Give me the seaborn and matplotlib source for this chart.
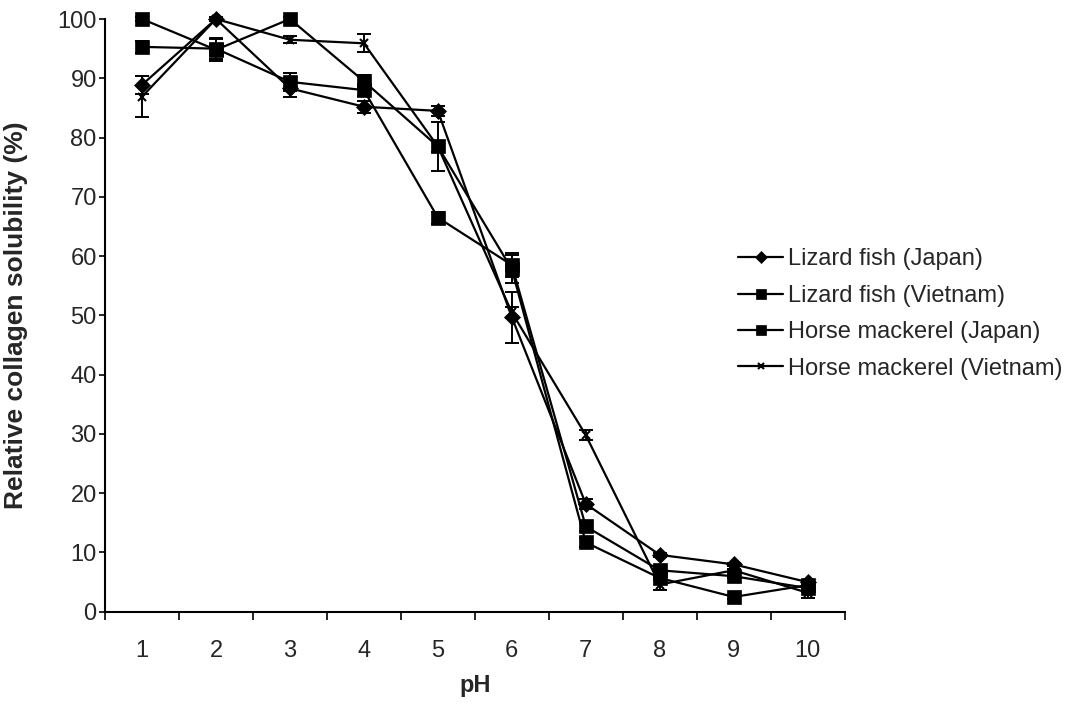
import numpy as np
import pandas as pd
import seaborn as sns
import matplotlib
matplotlib.use("Agg")
import matplotlib.pyplot as plt
from matplotlib.ticker import FixedLocator, NullFormatter, FixedFormatter

# ---- data ----
ph = [1, 2, 3, 4, 5, 6, 7, 8, 9, 10]
series_names = ["Lizard fish (Japan)", "Lizard fish (Vietnam)",
                "Horse mackerel (Japan)", "Horse mackerel (Vietnam)"]
lizard_japan = [88.9, 100.0, 88.3, 85.2, 84.5, 49.7, 18.2, 9.6, 8.0, 5.0]
lizard_vietnam = [100.0, 94.8, 100.0, 89.5, 78.5, 57.8, 11.7, 5.7, 2.5, 4.5]
horse_japan = [95.3, 95.0, 89.4, 88.0, 66.5, 58.5, 14.4, 7.0, 6.0, 4.0]
horse_vietnam = [86.9, 100.0, 96.5, 95.9, 78.5, 50.5, 29.8, 4.6, 7.0, 3.2]

err_lizard_japan = [1.5, 0.3, 1.5, 1.0, 0.8, 4.3, 0.8, 0.3, 0.3, 0.3]
err_lizard_vietnam = [0.3, 1.8, 0.3, 1.0, 4.2, 2.4, 0.8, 0.3, 0.3, 0.3]
err_horse_japan = [1.0, 1.8, 1.5, 1.0, 1.0, 2.0, 0.8, 0.3, 0.3, 0.3]
err_horse_vietnam = [3.5, 0.3, 0.6, 1.5, 1.0, 1.0, 0.8, 1.0, 0.3, 0.8]

y_ticks = [0, 10, 20, 30, 40, 50, 60, 70, 80, 90, 100]
x_label = "pH"
y_label = "Relative collagen solubility (%)"

values = [lizard_japan, lizard_vietnam, horse_japan, horse_vietnam]
errors = [err_lizard_japan, err_lizard_vietnam, err_horse_japan, err_horse_vietnam]
markers = ["D", "s", "s", "x"]
msizes = [8, 9.5, 9.5, 6]

rows = []
for name, vals, errs in zip(series_names, values, errors):
    for p, v, e in zip(ph, vals, errs):
        rows.append({"pH": p, "value": v, "err": e, "series": name})
df = pd.DataFrame(rows)

sns.set_style("ticks")
plt.rcParams["font.family"] = ["Liberation Sans", "DejaVu Sans"]

FS = 17

fig = plt.figure(figsize=(10.75, 7.04), dpi=100)
ax = fig.add_axes([0.0977, 0.131, 0.688, 0.842])

for name, m, ms in zip(series_names, markers, msizes):
    sub = df[df["series"] == name]
    ax.errorbar(sub["pH"], sub["value"], yerr=sub["err"], fmt="none",
                ecolor="black", elinewidth=1.4, capsize=5, capthick=1.4,
                zorder=2, clip_on=False)
    sns.lineplot(data=sub, x="pH", y="value", ax=ax, color="black",
                 marker=m, markersize=ms, markeredgecolor="black",
                 markeredgewidth=1.5 if m == "x" else 0.5,
                 linewidth=1.6, label=name, zorder=3, clip_on=False)

ax.set_xlim(0.5, 10.5)
ax.set_ylim(0, 100)
ax.set_yticks(y_ticks)
ax.set_yticklabels([str(t) for t in y_ticks], fontsize=FS)
ax.xaxis.set_major_locator(FixedLocator([i + 0.5 for i in range(0, 11)]))
ax.xaxis.set_major_formatter(NullFormatter())
ax.xaxis.set_minor_locator(FixedLocator(ph))
ax.xaxis.set_minor_formatter(FixedFormatter([str(p) for p in ph]))
ax.tick_params(axis="x", which="major", direction="out", length=6, width=1.2, color="black")
ax.tick_params(axis="x", which="minor", length=0, labelsize=FS, pad=20)
ax.tick_params(axis="y", direction="out", length=4, width=1.2, color="black", pad=2)

for s in ["top", "right"]:
    ax.spines[s].set_visible(False)
for s in ["left", "bottom"]:
    ax.spines[s].set_color("black")
    ax.spines[s].set_linewidth(1.5)

ax.set_xlabel(x_label, fontsize=FS, fontweight="bold")
ax.set_ylabel(y_label, fontsize=19, fontweight="bold")
ax.yaxis.set_label_coords(-0.104, 0.5)
ax.xaxis.set_label_coords(0.5, -0.105)

leg = ax.legend(loc="center left", bbox_to_anchor=(0.667, 0.554),
                bbox_transform=fig.transFigure, frameon=False,
                fontsize=FS, markerscale=0.75, handlelength=1.9,
                labelspacing=0.61, handletextpad=0.2)

fig.savefig("out.png", dpi=100)
